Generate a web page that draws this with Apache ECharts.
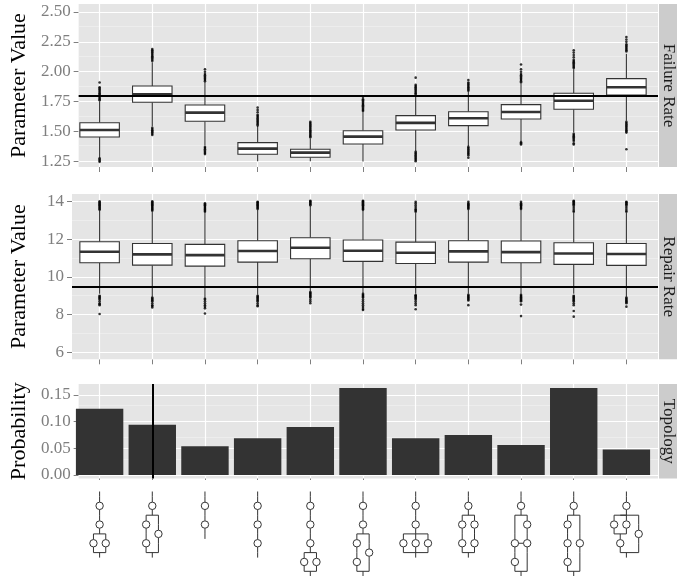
<!DOCTYPE html>
<html><head><meta charset="utf-8">
<script src="https://cdn.jsdelivr.net/npm/echarts@6/dist/echarts.min.js"></script>
<style>html,body{margin:0;padding:0;background:#fff}#c{width:677px;height:576px}</style>
</head><body><div id="c"></div>
<script>
// ---------------- data ----------------
const categories = ['T1','T2','T3','T4','T5','T6','T7','T8','T9','T10','T11'];

// Failure rate boxes: [lower whisker, Q1, median, Q3, upper whisker]
const failureBoxes = [
  [1.28, 1.453, 1.512, 1.573, 1.75],
  [1.54, 1.744, 1.811, 1.880, 2.08],
  [1.385, 1.585, 1.657, 1.721, 1.915],
  [1.25, 1.309, 1.356, 1.406, 1.545],
  [1.25, 1.283, 1.322, 1.350, 1.44],
  [1.247, 1.395, 1.456, 1.506, 1.66],
  [1.335, 1.512, 1.571, 1.632, 1.80],
  [1.375, 1.548, 1.610, 1.665, 1.835],
  [1.42, 1.604, 1.663, 1.724, 1.90],
  [1.49, 1.685, 1.757, 1.819, 2.02],
  [1.59, 1.805, 1.870, 1.942, 2.15]
];
const failureOutliers = [
  [1.245,1.255,1.265,1.275,1.76,1.77,1.78,1.79,1.80,1.81,1.82,1.83,1.84,1.85,1.86,1.87,1.91],
  [1.47,1.48,1.49,1.50,1.51,1.52,1.53,2.09,2.10,2.11,2.12,2.13,2.14,2.15,2.16,2.17,2.18,2.19],
  [1.31,1.32,1.33,1.34,1.35,1.36,1.37,1.92,1.93,1.94,1.95,1.96,1.97,1.98,2.00,2.02],
  [1.55,1.56,1.57,1.58,1.59,1.60,1.61,1.62,1.63,1.64,1.66,1.68,1.70],
  [1.45,1.46,1.47,1.48,1.49,1.50,1.51,1.52,1.53,1.54,1.55,1.56,1.57,1.58],
  [1.67,1.68,1.69,1.70,1.71,1.72,1.73,1.74,1.75,1.76,1.77,1.79],
  [1.25,1.26,1.27,1.28,1.29,1.30,1.31,1.32,1.33,1.81,1.82,1.83,1.84,1.85,1.86,1.87,1.88,1.89,1.95],
  [1.28,1.30,1.31,1.32,1.33,1.34,1.35,1.36,1.37,1.84,1.85,1.86,1.87,1.88,1.89,1.90,1.91,1.93],
  [1.39,1.40,1.41,1.91,1.92,1.93,1.94,1.95,1.96,1.97,1.98,2.00,2.02,2.06],
  [1.39,1.40,1.42,1.43,1.44,1.45,1.46,1.47,1.48,2.03,2.04,2.05,2.06,2.07,2.08,2.09,2.10,2.12,2.14,2.16,2.18],
  [1.35,1.49,1.50,1.51,1.52,1.53,1.54,1.55,1.56,1.57,1.58,2.17,2.18,2.19,2.20,2.21,2.22,2.23,2.25,2.27,2.29]
];
const failureTrue = 1.8;

// Repair rate boxes
const repairBoxes = [
  [9.1, 10.75, 11.33, 11.86, 13.5],
  [8.95, 10.62, 11.19, 11.77, 13.45],
  [8.9, 10.57, 11.15, 11.72, 13.4],
  [9.05, 10.78, 11.37, 11.91, 13.55],
  [9.25, 10.96, 11.54, 12.07, 13.75],
  [9.15, 10.82, 11.38, 11.95, 13.5],
  [9.1, 10.71, 11.28, 11.84, 13.4],
  [9.1, 10.78, 11.35, 11.91, 13.55],
  [9.1, 10.75, 11.31, 11.90, 13.55],
  [9.1, 10.66, 11.24, 11.81, 13.4],
  [8.95, 10.61, 11.21, 11.77, 13.4]
];
const repairOutliers = [
  [8.03,8.5,8.55,8.6,8.7,8.8,8.85,8.9,8.95,9.0,13.55,13.6,13.65,13.7,13.75,13.8,13.85,13.9,13.95,14.0],
  [8.38,8.45,8.5,8.6,8.7,8.75,8.8,8.85,8.9,13.5,13.55,13.6,13.65,13.7,13.75,13.8,13.85,13.9,13.95,14.0],
  [8.06,8.33,8.42,8.5,8.6,8.7,8.8,8.85,13.45,13.5,13.55,13.6,13.65,13.7,13.75,13.8,13.85,13.9],
  [8.44,8.5,8.6,8.7,8.75,8.8,8.85,8.9,8.95,9.0,13.6,13.65,13.7,13.75,13.8,13.85,13.9,13.95,13.98],
  [8.6,8.7,8.8,8.9,8.95,9.0,9.05,9.1,9.15,9.2,13.8,13.85,13.9,13.95,14.0,14.03],
  [8.24,8.3,8.4,8.5,8.6,8.7,8.8,8.9,8.95,9.0,9.05,9.1,13.55,13.6,13.65,13.7,13.75,13.8,13.85,13.9,13.95,14.0,14.03],
  [8.28,8.5,8.6,8.7,8.8,8.85,8.9,8.95,9.0,9.03,13.45,13.5,13.55,13.6,13.7,13.8,13.9,13.98],
  [8.5,8.75,8.8,8.85,8.9,8.95,9.0,9.05,13.6,13.65,13.7,13.75,13.8,13.85,13.9,13.98],
  [7.92,8.53,8.7,8.75,8.8,8.85,8.9,8.95,9.0,9.05,13.6,13.65,13.7,13.75,13.8,13.85,13.9,13.98],
  [7.89,8.19,8.5,8.6,8.7,8.75,8.8,8.85,8.9,8.95,9.0,13.45,13.5,13.6,13.7,13.8,13.85,13.9,13.95,14.0,14.03],
  [8.42,8.6,8.65,8.7,8.75,8.8,8.85,8.9,13.45,13.5,13.6,13.7,13.8,13.85,13.9,13.95,13.98]
];
const repairTrue = 9.5;

// Topology probabilities
const probabilities = [0.124, 0.094, 0.054, 0.069, 0.090, 0.163, 0.069, 0.075, 0.056, 0.163, 0.048];
const trueTopology = 'T2';

// Topology structures (S = series, P = parallel, c = component, B = bridge)
const topologies = [
  ['S','c','c',['P','c','c']],
  ['S','c',['P',['S','c','c'],'c']],
  ['S','c','c'],
  ['S','c','c','c'],
  ['S','c','c','c',['P','c','c']],
  ['S','c','c',['P',['S','c','c'],'c']],
  ['S','c','c',['P','c','c','c']],
  ['S','c',['P',['S','c','c'],['S','c','c']]],
  ['S','c','B'],
  ['S','c',['P',['S','c','c','c'],'c']],
  ['S','c',['P',['S',['P','c','c'],'c'],'c']]
];

// Axis ticks
const failureTicks = [1.25, 1.50, 1.75, 2.00, 2.25, 2.50];
const failureMinor = [1.375, 1.625, 1.875, 2.125, 2.375];
const repairTicks = [6, 8, 10, 12, 14];
const repairMinor = [7, 9, 11, 13];
const probTicks = [0.00, 0.05, 0.10, 0.15];
const probMinor = [0.025, 0.075, 0.125];

const panelTitles = ['Parameter Value', 'Parameter Value', 'Probability'];
const stripLabels = ['Failure Rate', 'Repair Rate', 'Topology'];

// ---------------- layout ----------------
const FONT = 'Liberation Serif';
const PL = 68, PW = 590;
const band = PW / 11.2;
const panels = [
  {top: 4, h: 163, min: 1.2018, max: 2.567, ticks: failureTicks, minor: failureMinor, fmt: v => v.toFixed(2)},
  {top: 194, h: 165.3, min: 5.63, max: 14.39, ticks: repairTicks, minor: repairMinor, fmt: v => String(Math.round(v))},
  {top: 384, h: 94.5, min: -0.0066, max: 0.1706, ticks: probTicks, minor: probMinor, fmt: v => v.toFixed(2)}
];

const grids = [], xAxes = [], yAxes = [], series = [], graphics = [];
panels.forEach((p, k) => {
  grids.push({left: PL, top: p.top, width: PW, height: p.h, show: true, backgroundColor: '#E5E5E5', borderWidth: 0});
  grids.push({left: PL + 0.1 * band, top: p.top, width: 11 * band, height: p.h, show: false});
  xAxes.push({gridIndex: 2*k, type: 'value', min: 0, max: 1, show: false});
  xAxes.push({gridIndex: 2*k+1, type: 'category', data: categories,
    axisLine: {show: false}, axisLabel: {show: false}, splitLine: {show: false},
    axisTick: {show: true, alignWithLabel: true, length: 5, lineStyle: {color: '#7F7F7F', width: 1}}});
  yAxes.push({gridIndex: 2*k, type: 'value', min: p.min, max: p.max,
    axisLine: {show: false}, splitLine: {show: false},
    axisTick: {show: true, length: 5, customValues: p.ticks, lineStyle: {color: '#7F7F7F', width: 1}},
    axisLabel: {customValues: p.ticks, formatter: p.fmt, color: '#7F7F7F', fontFamily: FONT, fontSize: 17, margin: 8},
    name: panelTitles[k], nameLocation: 'middle', nameGap: 42,
    nameTextStyle: {fontFamily: FONT, fontSize: 22, color: '#000'}});
  yAxes.push({gridIndex: 2*k+1, type: 'value', min: p.min, max: p.max, show: false});

  // grid lines
  series.push({type: 'line', xAxisIndex: 2*k, yAxisIndex: 2*k, data: [], silent: true,
    markLine: {silent: true, z: 1, symbol: ['none','none'], label: {show: false}, animation: false,
      lineStyle: {color: '#F2F2F2', width: 0.6, type: 'solid'}, data: p.minor.map(v => ({yAxis: v}))}});
  series.push({type: 'line', xAxisIndex: 2*k, yAxisIndex: 2*k, data: [], silent: true,
    markLine: {silent: true, z: 1, symbol: ['none','none'], label: {show: false}, animation: false,
      lineStyle: {color: '#FFFFFF', width: 1.2, type: 'solid'}, data: p.ticks.map(v => ({yAxis: v}))}});
  series.push({type: 'line', xAxisIndex: 2*k+1, yAxisIndex: 2*k+1, data: [], silent: true,
    markLine: {silent: true, z: 1, symbol: ['none','none'], label: {show: false}, animation: false,
      lineStyle: {color: '#FFFFFF', width: 1.2, type: 'solid'}, data: categories.map(c => ({xAxis: c}))}});

  // strip
  graphics.push({type: 'rect', shape: {x: PL + PW + 1, y: p.top, width: 677 - PL - PW - 1, height: p.h}, style: {fill: '#CCCCCC'}, silent: true});
  graphics.push({type: 'text', x: PL + PW + 10, y: p.top + p.h / 2, rotation: -Math.PI / 2,
    style: {text: stripLabels[k], fontFamily: FONT, fontSize: 17, fill: '#1A1A1A', align: 'center', verticalAlign: 'middle'}, silent: true});
});

function boxRender(params, api) {
  const i = api.value(0);
  const lo = api.coord([i, api.value(1)]), q1 = api.coord([i, api.value(2)]);
  const md = api.coord([i, api.value(3)]), q3 = api.coord([i, api.value(4)]);
  const hi = api.coord([i, api.value(5)]);
  const hw = api.size([1, 0])[0] * 0.375;
  const x = lo[0];
  const st = {stroke: '#333333', lineWidth: 1.1};
  return {type: 'group', children: [
    {type: 'line', shape: {x1: x, y1: hi[1], x2: x, y2: q3[1]}, style: st},
    {type: 'line', shape: {x1: x, y1: q1[1], x2: x, y2: lo[1]}, style: st},
    {type: 'rect', shape: {x: x - hw, y: q3[1], width: 2 * hw, height: q1[1] - q3[1]}, style: {fill: '#FFFFFF', stroke: '#333333', lineWidth: 1.1}},
    {type: 'line', shape: {x1: x - hw, y1: md[1], x2: x + hw, y2: md[1]}, style: {stroke: '#333333', lineWidth: 2.6}}
  ]};
}

[[failureBoxes, failureOutliers, failureTrue], [repairBoxes, repairOutliers, repairTrue]].forEach(([boxes, outs, truth], k) => {
  series.push({type: 'custom', xAxisIndex: 2*k+1, yAxisIndex: 2*k+1, z: 2, silent: true,
    data: boxes.map((b, i) => [i].concat(b)), encode: {x: 0, y: [1,2,3,4,5]}, renderItem: boxRender});
  series.push({type: 'scatter', xAxisIndex: 2*k+1, yAxisIndex: 2*k+1, z: 3, silent: true,
    symbolSize: 2.6, itemStyle: {color: '#000000'},
    data: outs.flatMap((arr, i) => arr.map(v => [i, v]))});
  series.push({type: 'line', xAxisIndex: 2*k, yAxisIndex: 2*k, data: [], silent: true,
    markLine: {silent: true, z: 5, symbol: ['none','none'], label: {show: false}, animation: false,
      lineStyle: {color: '#000000', width: 2, type: 'solid'}, data: [{yAxis: truth}]}});
});

// bars
series.push({type: 'bar', xAxisIndex: 5, yAxisIndex: 5, z: 2, silent: true, barWidth: '90%',
  itemStyle: {color: '#333333'}, data: probabilities,
  markLine: {silent: true, z: 5, symbol: ['none','none'], label: {show: false}, animation: false,
    lineStyle: {color: '#000000', width: 2, type: 'solid'}, data: [{xAxis: trueTopology}]}});

// topology diagrams as x-axis labels
const U = 18.7, W = 12.3, R = 3.7;
function measure(n) {
  if (n === 'c') return {w: W, h: U};
  if (n === 'B') return {w: 2 * W, h: 3 * U};
  const kids = n.slice(1).map(measure);
  if (n[0] === 'S') return {w: Math.max(...kids.map(q => q.w)), h: kids.reduce((s, q) => s + q.h, 0), kids};
  return {w: kids.reduce((s, q) => s + q.w, 0), h: Math.max(...kids.map(q => q.h)), kids};
}
function drawNode(n, m, cx, y, lines, circles) {
  const vl = (x, a, b) => lines.push([x, a, x, b]);
  const hl = (a, b, yy) => lines.push([a, yy, b, yy]);
  if (n === 'c') {
    circles.push([cx, y + U / 2]);
    vl(cx, y, y + U / 2 - R); vl(cx, y + U / 2 + R, y + U);
    return;
  }
  if (n === 'B') {
    const xl = cx - W / 2, xr = cx + W / 2;
    hl(xl, xr, y); hl(xl, xr, y + 3 * U);
    drawNode('c', null, xr, y, lines, circles);
    drawNode('c', null, xr, y + U, lines, circles);
    vl(xr, y + 2 * U, y + 3 * U);
    vl(xl, y, y + U);
    drawNode('c', null, xl, y + U, lines, circles);
    drawNode('c', null, xl, y + 2 * U, lines, circles);
    hl(xl + R, xr - R, y + 1.5 * U);
    return;
  }
  if (n[0] === 'S') {
    let yy = y;
    n.slice(1).forEach((q, i) => { drawNode(q, m.kids[i], cx, yy, lines, circles); yy += m.kids[i].h; });
    return;
  }
  let x = cx - m.w / 2; const xs = [];
  n.slice(1).forEach((q, i) => {
    const km = m.kids[i]; const kx = x + km.w / 2; xs.push(kx);
    const ky = y + (m.h - km.h) / 2;
    if (ky > y + 0.01) { vl(kx, y, ky); vl(kx, ky + km.h, y + m.h); }
    drawNode(q, km, kx, ky, lines, circles);
    x += km.w;
  });
  hl(xs[0], xs[xs.length - 1], y); hl(xs[0], xs[xs.length - 1], y + m.h);
}
series.push({type: 'custom', xAxisIndex: 5, yAxisIndex: 5, z: 2, silent: true, clip: false,
  data: topologies.map((t, i) => [i, 0]), encode: {x: 0, y: 1},
  renderItem: function (params, api) {
    const t = topologies[params.dataIndex];
    const cx = api.coord([api.value(0), 0])[0];
    const y0 = params.coordSys.y + params.coordSys.height + 13;
    const lines = [], circles = [];
    const m = measure(t);
    lines.push([cx, y0, cx, y0 + 5]);
    drawNode(t, m, cx, y0 + 5, lines, circles);
    lines.push([cx, y0 + 5 + m.h, cx, y0 + 10 + m.h]);
    const children = lines.map(l => ({type: 'line', shape: {x1: l[0], y1: l[1], x2: l[2], y2: l[3]}, style: {stroke: '#333333', lineWidth: 1}}))
      .concat(circles.map(c => ({type: 'circle', z2: 5, shape: {cx: c[0], cy: c[1], r: R}, style: {fill: '#FFFFFF', stroke: '#333333', lineWidth: 1}})));
    return {type: 'group', children};
  }});

const chart = echarts.init(document.getElementById('c'), null, {renderer: 'canvas'});
chart.setOption({
  animation: false,
  backgroundColor: '#FFFFFF',
  textStyle: {fontFamily: FONT},
  grid: grids, xAxis: xAxes, yAxis: yAxes, series: series, graphic: graphics
});
</script>
</body></html>
